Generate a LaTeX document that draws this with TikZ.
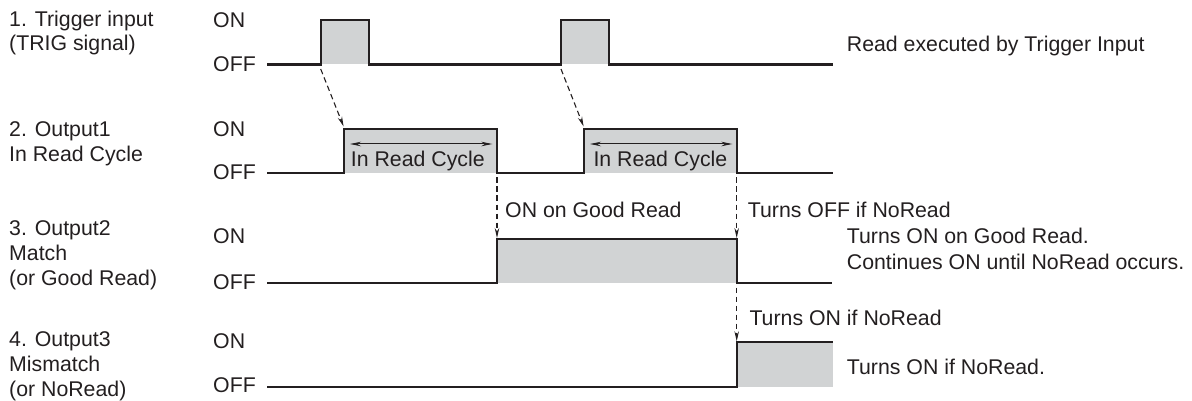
\documentclass[tikz,border=0pt]{standalone}
\usepackage{fontspec}
\setmainfont{Liberation Sans}
\usetikzlibrary{arrows.meta}
\definecolor{sig}{RGB}{35,31,32}
\definecolor{fillg}{RGB}{209,211,212}
\begin{document}
\begin{tikzpicture}[x=1pt,y=-1pt,
 txt/.style={anchor=base west,inner sep=0pt,font=\fontsize{21.3}{24}\selectfont,text=sig},
 wave/.style={line width=2.3pt,draw=sig,line join=miter},
 dasharrow/.style={draw=sig,line width=1.1pt,dash pattern=on 5.5pt off 3.5pt,-{Stealth[length=10pt,width=4.5pt]}},
 spanarrow/.style={draw=sig,line width=1pt,{Stealth[length=11pt,width=4.5pt]}-{Stealth[length=11pt,width=4.5pt]}},
 pulse/.style={fill=fillg,draw=none}]
\useasboundingbox (0,0) rectangle (1192,401);

% ---- left labels
\node[txt] (l1a) at (9,26.7) {1. Trigger input};
\node[txt] (l1b) at (9,50.5) {(TRIG signal)};
\node[txt] (l2a) at (9,136.7) {2. Output1};
\node[txt] (l2b) at (9,161.7) {In Read Cycle};
\node[txt] (l3a) at (9,235) {3. Output2};
\node[txt] (l3b) at (9,260) {Match};
\node[txt] (l3c) at (9,285.5) {(or Good Read)};
\node[txt] (l4a) at (9,346.7) {4. Output3};
\node[txt] (l4b) at (9,371.7) {Mismatch};
\node[txt] (l4c) at (9,396.2) {(or NoRead)};

% ---- ON / OFF labels
\node[txt] (on1) at (213,27.7) {ON};
\node[txt] (off1) at (213,71.7) {OFF};
\node[txt] (on2) at (213,136.7) {ON};
\node[txt] (off2) at (213,180) {OFF};
\node[txt] (on3) at (213,243.3) {ON};
\node[txt] (off3) at (213,289.3) {OFF};
\node[txt] (on4) at (213,348.3) {ON};
\node[txt] (off4) at (213,392.7) {OFF};

% ---- fills
\fill[pulse] (320.7,20) rectangle (368.7,64.5);
\fill[pulse] (561,20) rectangle (609,64.5);
\fill[pulse] (344.3,128.7) rectangle (497,173.3);
\fill[pulse] (584,128.7) rectangle (736.7,173.3);
\fill[pulse] (497,239) rectangle (736.7,283);
\fill[pulse] (736.7,342.3) rectangle (832.7,387.3);

% ---- waveforms
\draw[wave] (267,64.5) -| (320.7,20) -| (368.7,64.5) -| (561,20) -| (609,64.5) -- (832.5,64.5);
\draw[wave] (267,173.3) -| (344.3,128.7) -| (497,173.3) -| (584,128.7) -| (736.7,173.3) -- (832.5,173.3);
\draw[wave] (267,283) -| (497,239) -| (736.7,283) -- (832,283);
\draw[wave] (267,387.3) -| (736.7,342.3) -- (832.7,342.3);

% ---- coordinates for connectors
\coordinate (t1s) at (320.7,69);
\coordinate (t1e) at (343.6,126.5);
\coordinate (t2s) at (561,69);
\coordinate (t2e) at (583.6,126.5);
\coordinate (g1s) at (497,177.5);
\coordinate (g1e) at (497,238);
\coordinate (g2s) at (736.7,177.5);
\coordinate (g2e) at (736.7,238);
\coordinate (n1s) at (736.7,287.5);
\coordinate (n1e) at (736.7,341.3);
\coordinate (c1a) at (350,144);
\coordinate (c1b) at (492.3,144);
\coordinate (c2a) at (590,144);
\coordinate (c2b) at (732.3,144);

% ---- connectors
\draw[dasharrow] (t1s) -- (t1e);
\draw[dasharrow] (t2s) -- (t2e);
\draw[dasharrow] (g1s) -- (g1e);
\draw[dasharrow] (g2s) -- (g2e);
\draw[dasharrow] (n1s) -- (n1e);
\draw[spanarrow] (c1a) -- (c1b);
\draw[spanarrow] (c2a) -- (c2b);

% ---- annotations
\node[txt] (rc1) at (350.7,166.7) {In Read Cycle};
\node[txt] (rc2) at (593.3,166.7) {In Read Cycle};
\node[txt] (rex) at (846.7,51.7) {Read executed by Trigger Input};
\node[txt] (ogr) at (505,217.3) {ON on Good Read};
\node[txt] (tof) at (747.7,218) {Turns OFF if NoRead};
\node[txt] (tog) at (846.7,243.3) {Turns ON on Good Read.};
\node[txt] (con) at (846.7,269.3) {Continues ON until NoRead occurs.};
\node[txt] (ton) at (749.3,325) {Turns ON if NoRead};
\node[txt] (ton2) at (846.7,374) {Turns ON if NoRead.};
\end{tikzpicture}
\end{document}
